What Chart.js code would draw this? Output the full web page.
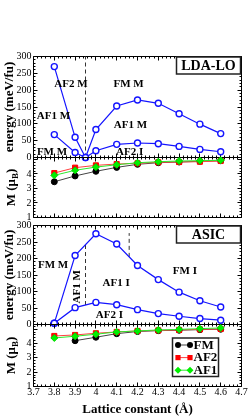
<!DOCTYPE html>
<html>
<head>
<meta charset="utf-8">
<title>Energy and moment vs lattice constant</title>
<script src="https://cdn.jsdelivr.net/npm/chart.js"></script>
<style>
  html, body { margin: 0; padding: 0; background: #fff; }
  #wrap { position: relative; width: 249px; height: 417px; }
  #wrap canvas { position: absolute; left: 0; top: 0; }
</style>
</head>
<body>
<div id="wrap">
  <canvas id="ldaEnergy" width="249" height="417"></canvas>
  <canvas id="ldaMoment" width="249" height="417"></canvas>
  <canvas id="asicEnergy" width="249" height="417"></canvas>
  <canvas id="asicMoment" width="249" height="417"></canvas>
</div>
<script>
// values
const latticeLDA = [3.8, 3.9, 3.95, 4.0, 4.1, 4.2, 4.3, 4.4, 4.5, 4.6];
const ldaEnergyUpper = [270, 60, 0, 83, 153, 171, 161, 130, 99, 71];
const ldaEnergyLower = [68, 15, 0, 20, 39, 43, 41, 33, 24, 17];

const lattice = [3.8, 3.9, 4.0, 4.1, 4.2, 4.3, 4.4, 4.5, 4.6];
const ldaMomentFM  = [3.46, 3.86, 4.18, 4.45, 4.66, 4.77, 4.82, 4.87, 4.91];
const ldaMomentAF2 = [4.06, 4.43, 4.59, 4.68, 4.73, 4.80, 4.82, 4.84, 4.89];
const ldaMomentAF1 = [3.90, 4.25, 4.47, 4.63, 4.77, 4.84, 4.89, 4.91, 4.94];

const asicEnergyUpper = [4, 209, 275, 244, 179, 136, 98, 72, 53];
const asicEnergyLower = [4, 51, 67, 60, 45, 33, 25, 18, 13];

const asicMomentFM  = [null, 4.20, 4.44, 4.69, 4.84, 4.90, 4.93, 4.97, 5.00];
const asicMomentAF2 = [4.53, 4.60, 4.72, 4.81, 4.88, 4.92, 4.95, 4.99, 5.02];
const asicMomentAF1 = [4.39, 4.51, 4.65, 4.81, 4.88, 4.95, 4.99, 5.04, 5.09];

const latticeTicks = [3.7, 3.8, 3.9, 4.0, 4.1, 4.2, 4.3, 4.4, 4.5, 4.6, 4.7];
const energyTicks = [0, 50, 100, 150, 200, 250, 300];
const momentTicks = [1, 2, 3, 4];

// dashed phase boundaries: [lattice, from, to]
const ldaBoundaries = [[3.95, 0, 300]];
const asicBoundaries = [[3.95, 59, 242], [4.16, 205, 277]];

// phase names: [text, lattice, energy, vertical]
const ldaPhases = [
  ['AF2 M', 3.880, 218], ['FM M', 4.157, 218],
  ['AF1 M', 3.796, 124], ['AF1 M', 4.166, 97],
  ['FM M', 3.789, 16], ['AF2 I', 4.162, 16]
];
const asicPhases = [
  ['FM M', 3.794, 180], ['AF1 M', 3.909, 114, true],
  ['AF1 I', 4.097, 126], ['FM I', 4.428, 163], ['AF2 I', 4.065, 28]
];

const SERIF = "'Liberation Serif', 'Times New Roman', serif";
const BLUE = '#1414ff';
const PLOT_LEFT = 33.5;
const PLOT_RIGHT = 241.5;

const toPoints = (xs, ys) => xs.map((x, i) => ({ x, y: ys[i] }));

function energySet(xs, ys) {
  return {
    data: toPoints(xs, ys),
    borderColor: BLUE, borderWidth: 1.2,
    pointRadius: 3, pointBorderWidth: 1.4,
    pointBorderColor: BLUE, pointBackgroundColor: '#fff',
    clip: false
  };
}

function dashSet([x, a, b]) {
  return {
    data: [{ x, y: a }, { x, y: b }],
    borderColor: '#333', borderWidth: 1, borderDash: [4, 3],
    pointRadius: 0, clip: false
  };
}

function momentSets(fm, af2, af1) {
  // first dataset is drawn on top
  return [
    { data: toPoints(lattice, af1), borderColor: '#2fe82f', borderWidth: 1,
      pointStyle: 'rectRot', pointRadius: 3.5, pointBorderWidth: 1,
      pointBackgroundColor: '#00f000', pointBorderColor: '#00d800', clip: false },
    { data: toPoints(lattice, af2), borderColor: '#ff4040', borderWidth: 1,
      pointStyle: 'rect', pointRadius: 3.6, pointBorderWidth: 1,
      pointBackgroundColor: '#ff0000', pointBorderColor: '#ff0000', clip: false },
    { data: toPoints(lattice, fm), borderColor: '#444', borderWidth: 1,
      pointStyle: 'circle', pointRadius: 3, pointBorderWidth: 1,
      pointBackgroundColor: '#000', pointBorderColor: '#000', clip: false }
  ];
}

function drawMarker(ctx, style, x, y, color) {
  ctx.fillStyle = color;
  ctx.beginPath();
  if (style === 'circle') ctx.arc(x, y, 3, 0, Math.PI * 2);
  else if (style === 'rect') ctx.rect(x - 2.6, y - 2.6, 5.2, 5.2);
  else { ctx.moveTo(x - 3.5, y); ctx.lineTo(x, y - 3.5); ctx.lineTo(x + 3.5, y); ctx.lineTo(x, y + 3.5); ctx.closePath(); }
  ctx.fill();
}

function drawMomentTitle(ctx, cx, cy) {
  const big = `bold 13px ${SERIF}`, small = `bold 9px ${SERIF}`;
  ctx.save();
  ctx.translate(cx, cy);
  ctx.rotate(-Math.PI / 2);
  ctx.fillStyle = '#000';
  ctx.textAlign = 'left';
  ctx.textBaseline = 'alphabetic';
  ctx.font = big;
  const w1 = ctx.measureText('M (μ').width, w3 = ctx.measureText(')').width;
  ctx.font = small;
  const w2 = ctx.measureText('B').width;
  let xx = -(w1 + w2 + w3) / 2;
  ctx.font = big; ctx.fillText('M (μ', xx, 4.5); xx += w1;
  ctx.font = small; ctx.fillText('B', xx, 7.5); xx += w2;
  ctx.font = big; ctx.fillText(')', xx, 4.5);
  ctx.restore();
}

const framePlugin = {
  id: 'frame',
  beforeDatasetsDraw(chart, args, opts) {
    const { ctx, chartArea: a, scales: { x, y } } = chart;
    ctx.save();
    ctx.strokeStyle = '#000';
    ctx.lineWidth = 1;
    ctx.beginPath();
    ctx.rect(a.left, a.top, a.right - a.left, a.bottom - a.top);
    // lattice ticks, minor every 0.02
    for (let i = 0; i <= 50; i++) {
      const px = Math.floor(x.getPixelForValue(3.7 + i * 0.02)) + 0.5;
      const len = i % 5 === 0 ? 4 : 2;
      ctx.moveTo(px, a.top); ctx.lineTo(px, a.top + len);
      ctx.moveTo(px, a.bottom); ctx.lineTo(px, a.bottom - len);
    }
    const n0 = Math.ceil(y.min / opts.yMinor - 1e-6);
    const n1 = Math.floor(y.max / opts.yMinor + 1e-6);
    for (let n = n0; n <= n1; n++) {
      const py = Math.floor(y.getPixelForValue(n * opts.yMinor)) + 0.5;
      const len = n % opts.perMajor === 0 ? 4 : 2;
      ctx.moveTo(a.left, py); ctx.lineTo(a.left + len, py);
      ctx.moveTo(a.right, py); ctx.lineTo(a.right - len, py);
    }
    ctx.stroke();
    ctx.restore();
  },
  afterDatasetsDraw(chart, args, opts) {
    const { ctx, chartArea: a, scales: { x, y } } = chart;
    ctx.save();
    ctx.fillStyle = '#000';
    ctx.textAlign = 'center';
    ctx.textBaseline = 'middle';
    ctx.font = `bold 11px ${SERIF}`;
    for (const [text, lx, ly, vertical] of (opts.phases || [])) {
      const px = x.getPixelForValue(lx), py = y.getPixelForValue(ly);
      if (vertical) {
        ctx.save(); ctx.translate(px, py); ctx.rotate(-Math.PI / 2);
        ctx.fillText(text, 0, 0); ctx.restore();
      } else {
        ctx.fillText(text, px, py);
      }
    }
    if (opts.box) {
      const bx = a.right - 65, by = a.top + 0.5;
      ctx.fillStyle = '#fff';
      ctx.fillRect(bx, by, 64, 17);
      ctx.strokeStyle = '#222';
      ctx.lineWidth = 1.5;
      ctx.strokeRect(bx, by, 64, 17);
      ctx.fillStyle = '#000';
      ctx.font = `bold 14px ${SERIF}`;
      ctx.fillText(opts.box, bx + 32, by + 9);
    }
    if (opts.legend) {
      const lx = a.right - 69, ly = a.top + 13.5;
      ctx.fillStyle = '#fff';
      ctx.fillRect(lx, ly, 46, 38.5);
      ctx.strokeStyle = '#222';
      ctx.lineWidth = 1.5;
      ctx.strokeRect(lx, ly, 46, 38.5);
      opts.legend.forEach(([label, style, color, line], i) => {
        const ey = ly + 7 + i * 12.6;
        ctx.strokeStyle = line;
        ctx.lineWidth = 1;
        ctx.beginPath();
        ctx.moveTo(lx + 5.5, ey); ctx.lineTo(lx + 17.5, ey);
        ctx.stroke();
        drawMarker(ctx, style, lx + 5.5, ey, color);
        drawMarker(ctx, style, lx + 17.5, ey, color);
        ctx.fillStyle = '#000';
        ctx.font = `bold 13px ${SERIF}`;
        ctx.textAlign = 'left';
        ctx.fillText(label, lx + 21, ey + 0.5);
      });
    }
    if (opts.momentTitle) drawMomentTitle(ctx, 10, (a.top + a.bottom) / 2);
    ctx.restore();
  }
};

function panel(id, cfg) {
  const { top, bottom, yMin, yMax, yTicks, yMinor, perMajor, datasets, showX, energyTitle, extra } = cfg;
  return new Chart(document.getElementById(id), {
    type: 'line',
    data: { datasets },
    options: {
      responsive: false,
      animation: false,
      events: [],
      layout: { padding: { left: 0, right: 249 - PLOT_RIGHT, top, bottom: showX ? 0 : 417 - bottom } },
      plugins: {
        legend: { display: false },
        tooltip: { enabled: false },
        frame: Object.assign({ yMinor, perMajor }, extra)
      },
      scales: {
        x: {
          type: 'linear', min: 3.7, max: 4.7, display: showX,
          afterFit: s => { s.height = showX ? 417 - bottom : 0; },
          afterBuildTicks: s => { s.ticks = latticeTicks.map(v => ({ value: v })); },
          ticks: {
            padding: 0, autoSkip: false, maxRotation: 0, color: '#000',
            font: { family: SERIF, size: 10 },
            callback: v => String(+v.toFixed(1))
          },
          grid: { display: false, drawTicks: false },
          border: { display: false },
          title: {
            display: true, text: 'Lattice constant (Å)', color: '#000',
            font: { family: SERIF, size: 13, weight: 'bold' }, padding: 0
          }
        },
        y: {
          type: 'linear', min: yMin, max: yMax,
          afterFit: s => { s.width = PLOT_LEFT; },
          afterBuildTicks: s => { s.ticks = yTicks.map(v => ({ value: v })); },
          ticks: { padding: 2, autoSkip: false, color: '#000', font: { family: SERIF, size: 10 } },
          grid: { display: false, drawTicks: false },
          border: { display: false },
          title: {
            display: !!energyTitle, text: 'energy (meV/fu)', color: '#000',
            font: { family: SERIF, size: 13, weight: 'bold' }, padding: { top: 2, bottom: 0 }
          }
        }
      }
    },
    plugins: [framePlugin]
  });
}

const legendItems = [
  ['FM', 'circle', '#000', '#444'],
  ['AF2', 'rect', '#ff0000', '#ff4040'],
  ['AF1', 'rectRot', '#00f000', '#2fe82f']
];

panel('ldaEnergy', {
  top: 56.5, bottom: 157.5, yMin: 0, yMax: 300, yTicks: energyTicks, yMinor: 10, perMajor: 5,
  energyTitle: true, showX: false,
  datasets: [energySet(latticeLDA, ldaEnergyUpper), energySet(latticeLDA, ldaEnergyLower), ...ldaBoundaries.map(dashSet)],
  extra: { phases: ldaPhases, box: 'LDA-LO' }
});

panel('ldaMoment', {
  top: 157.5, bottom: 217.5, yMin: 1, yMax: 5.13, yTicks: momentTicks, yMinor: 0.2, perMajor: 5,
  showX: false,
  datasets: momentSets(ldaMomentFM, ldaMomentAF2, ldaMomentAF1),
  extra: { momentTitle: true }
});

panel('asicEnergy', {
  top: 225.5, bottom: 324.5, yMin: 0, yMax: 300, yTicks: energyTicks, yMinor: 10, perMajor: 5,
  energyTitle: true, showX: false,
  datasets: [energySet(lattice, asicEnergyUpper), energySet(lattice, asicEnergyLower), ...asicBoundaries.map(dashSet)],
  extra: { phases: asicPhases, box: 'ASIC' }
});

panel('asicMoment', {
  top: 324.5, bottom: 386.5, yMin: 1, yMax: 5.33, yTicks: momentTicks, yMinor: 0.2, perMajor: 5,
  showX: true,
  datasets: momentSets(asicMomentFM, asicMomentAF2, asicMomentAF1),
  extra: { momentTitle: true, legend: legendItems }
});
</script>
</body>
</html>
